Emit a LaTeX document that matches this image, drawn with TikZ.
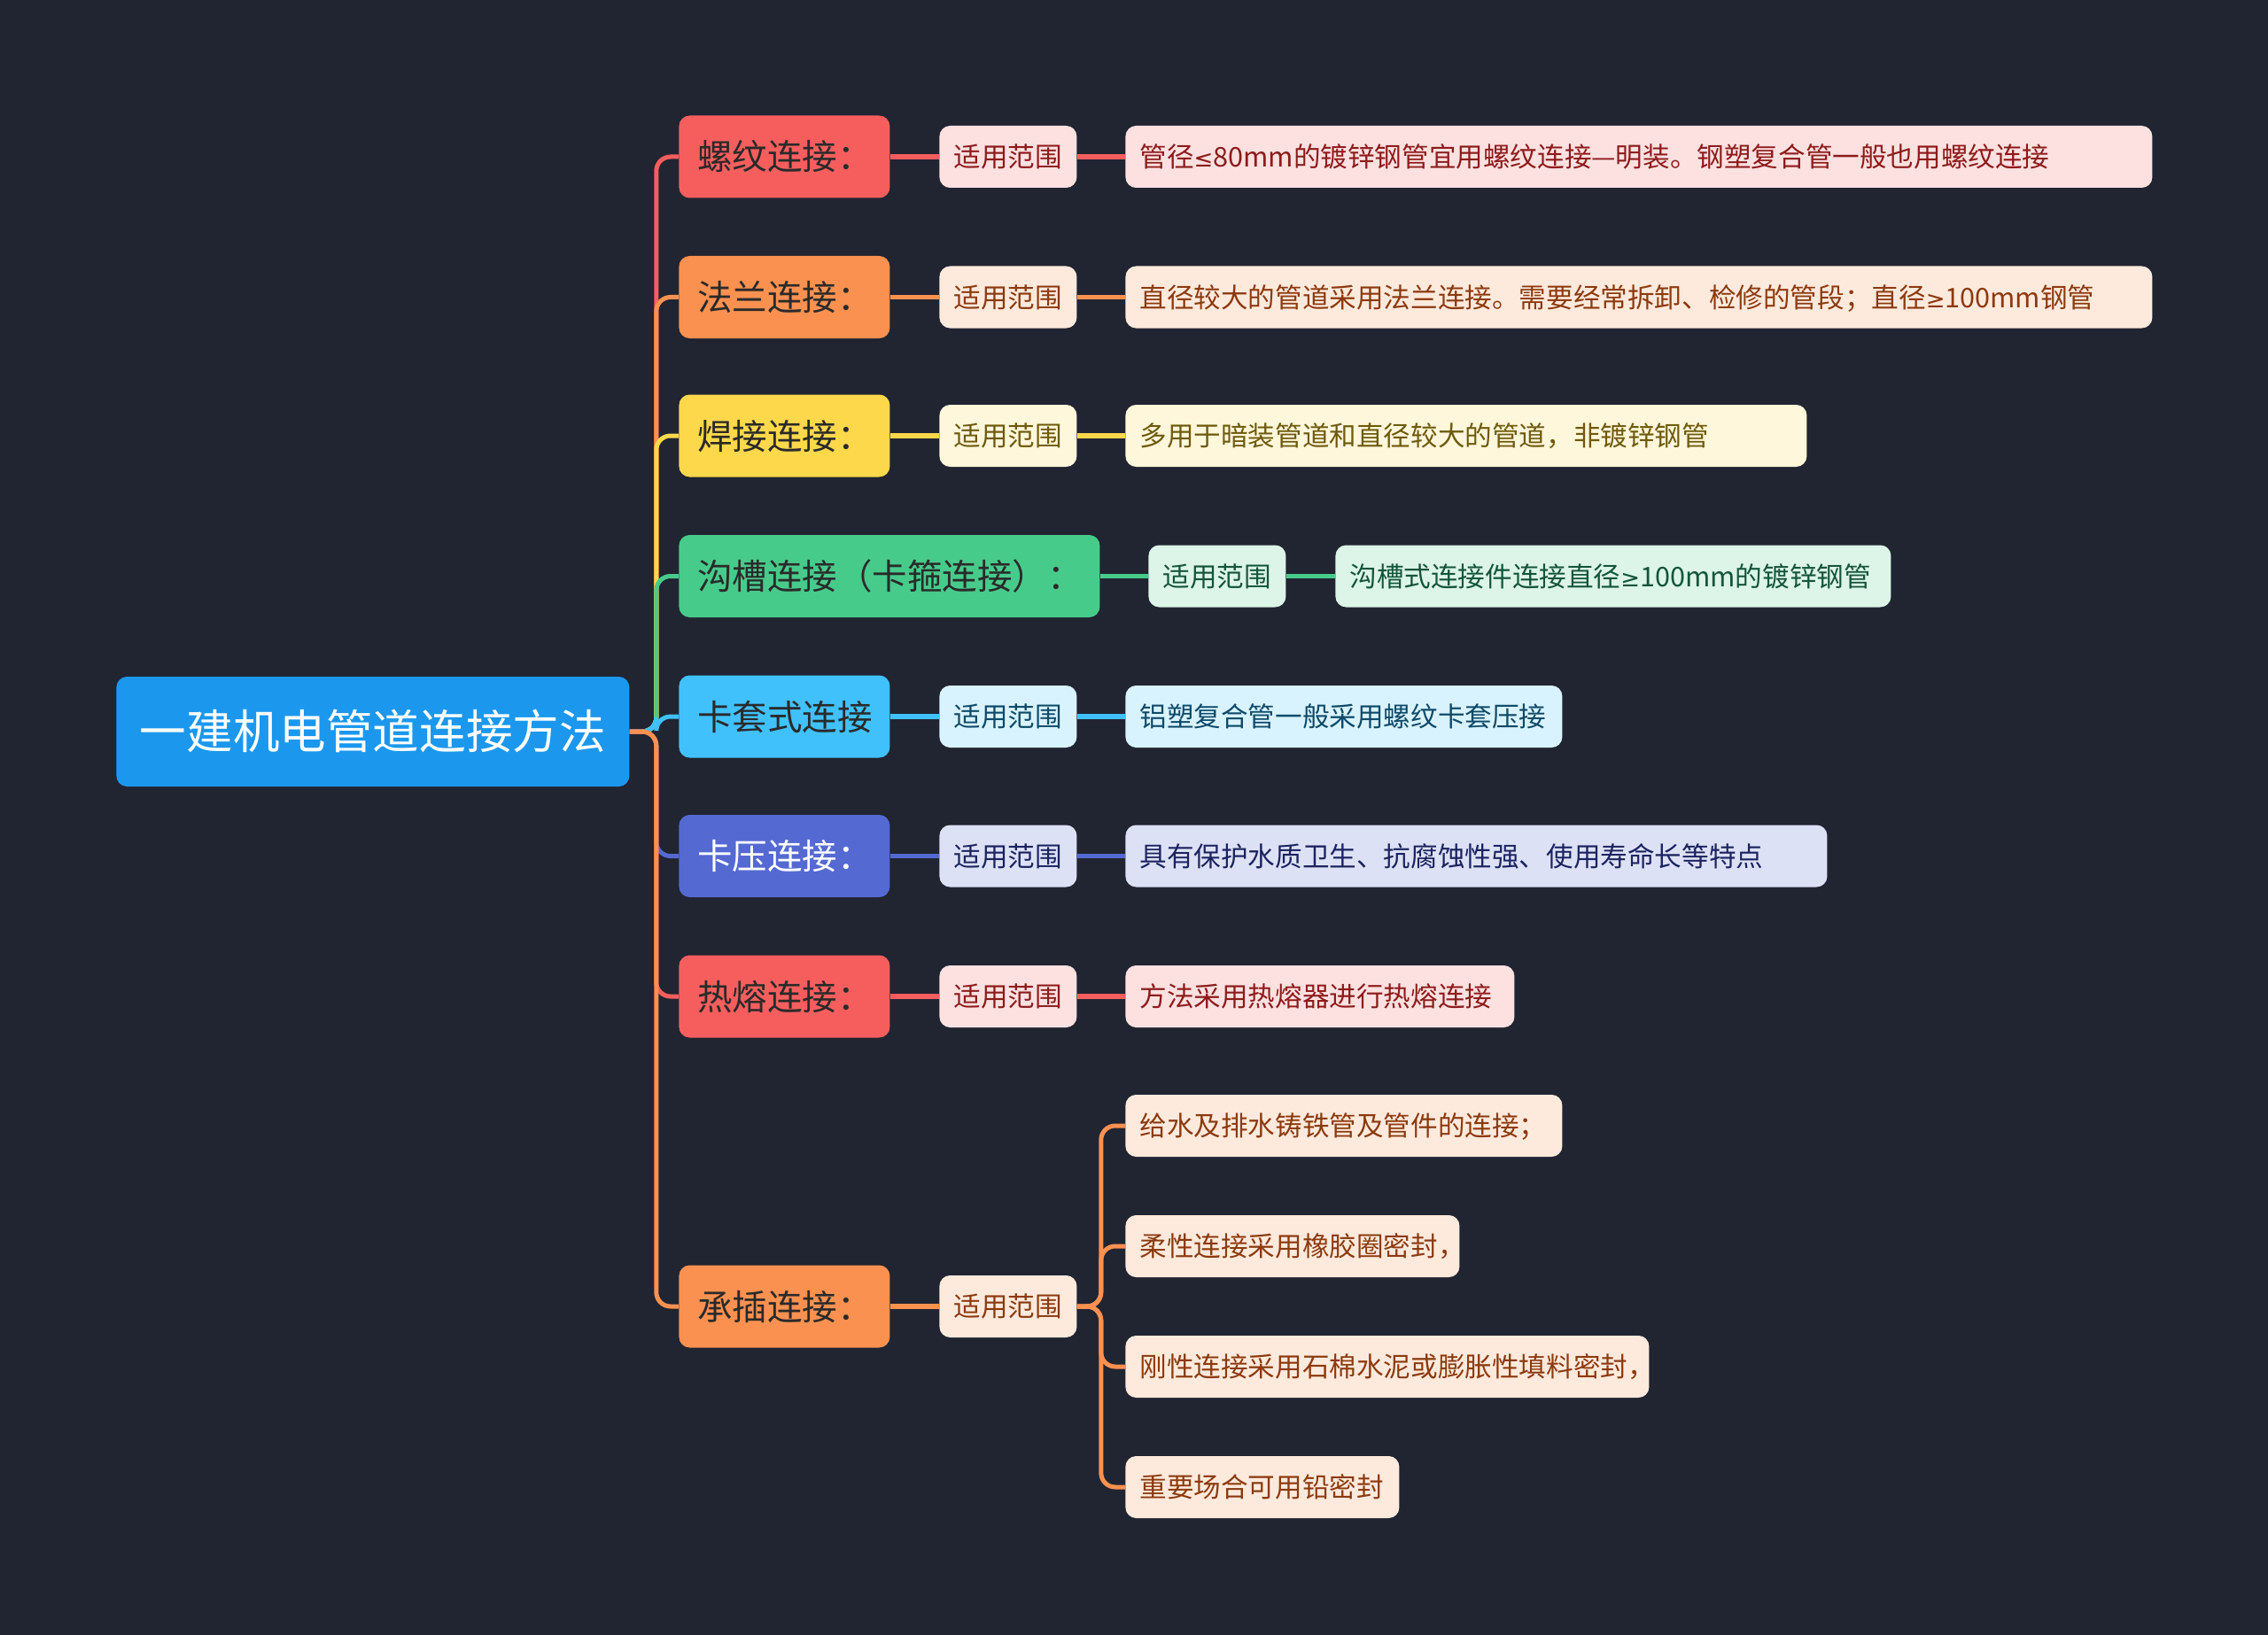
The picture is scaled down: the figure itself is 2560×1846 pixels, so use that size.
\documentclass[tikz,border=0pt]{standalone}
\usepackage{fontspec}
\setmainfont{Noto Sans CJK SC}
\newfontfamily\symfont{DejaVu Sans}
\newcommand\myle{{\symfont\fontsize{13pt}{16pt}\selectfont ≤}}
\newcommand\myge{{\symfont\fontsize{13pt}{16pt}\selectfont ≥}}
\definecolor{bg}{HTML}{212431}
\definecolor{rootc}{HTML}{1B98EE}
\definecolor{cred}{HTML}{F65E5E}
\definecolor{corg}{HTML}{FA9150}
\definecolor{cyel}{HTML}{FDD84B}
\definecolor{cgrn}{HTML}{47CB8B}
\definecolor{cblu}{HTML}{40C1FB}
\definecolor{cind}{HTML}{5469D2}
\definecolor{lred}{HTML}{FDE1E1}\definecolor{dred}{HTML}{8E1B1B}
\definecolor{lorg}{HTML}{FEEADD}\definecolor{dorg}{HTML}{8C3A0E}
\definecolor{lyel}{HTML}{FEF7DB}\definecolor{dyel}{HTML}{6E5A0B}
\definecolor{lgrn}{HTML}{DCF5E8}\definecolor{dgrn}{HTML}{14553A}
\definecolor{lblu}{HTML}{D9F3FE}\definecolor{dblu}{HTML}{0E4A68}
\definecolor{lind}{HTML}{DDE1F5}\definecolor{dind}{HTML}{1B2360}
\definecolor{dark}{HTML}{2A2A2A}
\newcommand\tbox[2]{\makebox[#1][l]{#2}}
\tikzset{
  base/.style={rectangle, rounded corners=6pt, anchor=west, inner ysep=0pt},
  rootbox/.style={base, fill=rootc, text=white, font=\fontsize{26.3pt}{30pt}\selectfont,
    minimum width=289.5pt, minimum height=62pt, inner xsep=0pt, text height=23.1pt, text depth=3.2pt},
  topic/.style={base, text=dark, font=\fontsize{19.75pt}{24pt}\selectfont,
    minimum height=46.5pt, inner xsep=10.5pt, text height=17.4pt, text depth=2.4pt},
  tag/.style={base, font=\fontsize{15.3pt}{18pt}\selectfont,
    minimum height=35pt, inner xsep=8pt, text height=13.5pt, text depth=1.8pt},
  conn/.style={line width=2.5pt, rounded corners=8pt},
  link/.style={line width=2.8pt},
}
\begin{document}
\begin{tikzpicture}[x=0.5pt, y=-0.5pt]
\fill[bg] (0,0) rectangle (2560,1846);
\useasboundingbox (0,0) rectangle (2560,1846);

\node[rootbox] (r) at (131,826) {一建机电管道连接方法};

% level 1
\node[topic, fill=cred] (a1) at (766,177) {\tbox{98pt}{螺纹连接：}};
\node[topic, fill=corg] (a2) at (766,335.5) {\tbox{98pt}{法兰连接：}};
\node[topic, fill=cyel] (a3) at (766,492) {\tbox{98pt}{焊接连接：}};
\node[topic, fill=cgrn] (a4) at (766,650.5) {\tbox{216.5pt}{沟槽连接（卡箍连接）：}};
\node[topic, fill=cblu] (a5) at (766,809) {\tbox{98pt}{卡套式连接}};
\node[topic, fill=cind, text=white] (a6) at (766,966.5) {\tbox{98pt}{卡压连接：}};
\node[topic, fill=cred] (a7) at (766,1125) {\tbox{98pt}{热熔连接：}};
\node[topic, fill=corg] (a8) at (766,1475) {\tbox{98pt}{承插连接：}};

% level 2
\node[tag, fill=lred, text=dred] (b1) at (1060,177) {\tbox{61.5pt}{适用范围}};
\node[tag, fill=lorg, text=dorg] (b2) at (1060,335.5) {\tbox{61.5pt}{适用范围}};
\node[tag, fill=lyel, text=dyel] (b3) at (1060,492) {\tbox{61.5pt}{适用范围}};
\node[tag, fill=lgrn, text=dgrn] (b4) at (1296,650.5) {\tbox{61.5pt}{适用范围}};
\node[tag, fill=lblu, text=dblu] (b5) at (1060,809) {\tbox{61.5pt}{适用范围}};
\node[tag, fill=lind, text=dind] (b6) at (1060,966.5) {\tbox{61.5pt}{适用范围}};
\node[tag, fill=lred, text=dred] (b7) at (1060,1125) {\tbox{61.5pt}{适用范围}};
\node[tag, fill=lorg, text=dorg] (b8) at (1060,1475) {\tbox{61.5pt}{适用范围}};

% level 3
\node[tag, fill=lred, text=dred] (c1) at (1270,177) {\tbox{563.5pt}{管径\myle80mm的镀锌钢管宜用螺纹连接—明装。钢塑复合管一般也用螺纹连接}};
\node[tag, fill=lorg, text=dorg] (c2) at (1270,335.5) {\tbox{563.5pt}{直径较大的管道采用法兰连接。需要经常拆卸、检修的管段；直径\myge100mm钢管}};
\node[tag, fill=lyel, text=dyel] (c3) at (1270,492) {\tbox{368.5pt}{多用于暗装管道和直径较大的管道，非镀锌钢管}};
\node[tag, fill=lgrn, text=dgrn] (c4) at (1507,650.5) {\tbox{297.5pt}{沟槽式连接件连接直径\myge100mm的镀锌钢管}};
\node[tag, fill=lblu, text=dblu] (c5) at (1270,809) {\tbox{230.5pt}{铝塑复合管一般采用螺纹卡套压接}};
\node[tag, fill=lind, text=dind] (c6) at (1270,966.5) {\tbox{380pt}{具有保护水质卫生、抗腐蚀性强、使用寿命长等特点}};
\node[tag, fill=lred, text=dred] (c7) at (1270,1125) {\tbox{203.5pt}{方法采用热熔器进行热熔连接}};
\node[tag, fill=lorg, text=dorg] (c8a) at (1270,1271) {\tbox{230.5pt}{给水及排水铸铁管及管件的连接；}};
\node[tag, fill=lorg, text=dorg] (c8b) at (1270,1407) {\tbox{172.5pt}{柔性连接采用橡胶圈密封，}};
\node[tag, fill=lorg, text=dorg] (c8c) at (1270,1543) {\tbox{279.5pt}{刚性连接采用石棉水泥或膨胀性填料密封，}};
\node[tag, fill=lorg, text=dorg] (c8d) at (1270,1679) {\tbox{138.5pt}{重要场合可用铅密封}};

% root -> level 1
\draw[conn, cred] (r.east) -- ++(30,0) |- (a1.west);
\draw[conn, corg] (r.east) -- ++(30,0) |- (a2.west);
\draw[conn, cyel] (r.east) -- ++(30,0) |- (a3.west);
\draw[conn, cgrn] (r.east) -- ++(30,0) |- (a4.west);
\draw[conn, cblu] (r.east) -- ++(30,0) |- (a5.west);
\draw[conn, cind] (r.east) -- ++(30,0) |- (a6.west);
\draw[conn, cred] (r.east) -- ++(30,0) |- (a7.west);
\draw[conn, corg] (r.east) -- ++(30,0) |- (a8.west);

% level 1 -> 2 -> 3
\draw[link, cred] (a1.east) -- (b1.west); \draw[link, cred] (b1.east) -- (c1.west);
\draw[link, corg] (a2.east) -- (b2.west); \draw[link, corg] (b2.east) -- (c2.west);
\draw[link, cyel] (a3.east) -- (b3.west); \draw[link, cyel] (b3.east) -- (c3.west);
\draw[link, cgrn] (a4.east) -- (b4.west); \draw[link, cgrn] (b4.east) -- (c4.west);
\draw[link, cblu] (a5.east) -- (b5.west); \draw[link, cblu] (b5.east) -- (c5.west);
\draw[link, cind] (a6.east) -- (b6.west); \draw[link, cind] (b6.east) -- (c6.west);
\draw[link, cred] (a7.east) -- (b7.west); \draw[link, cred] (b7.east) -- (c7.west);
\draw[link, corg] (a8.east) -- (b8.west);
\draw[conn, corg] (b8.east) -- ++(27,0) |- (c8a.west);
\draw[conn, corg] (b8.east) -- ++(27,0) |- (c8b.west);
\draw[conn, corg] (b8.east) -- ++(27,0) |- (c8c.west);
\draw[conn, corg] (b8.east) -- ++(27,0) |- (c8d.west);
\end{tikzpicture}
\end{document}
